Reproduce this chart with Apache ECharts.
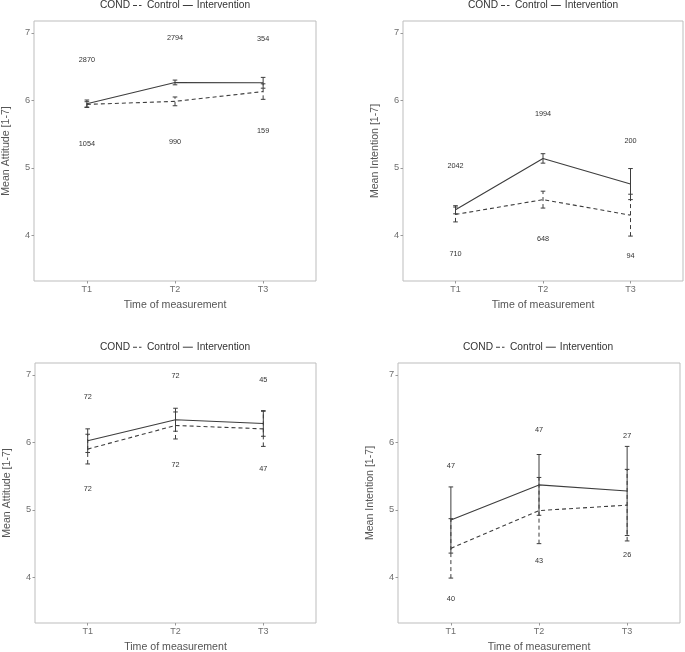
<!DOCTYPE html>
<html>
<head>
<meta charset="utf-8">
<script src="https://cdn.jsdelivr.net/npm/echarts@6/dist/echarts.min.js"></script>
<style>html,body{margin:0;padding:0;background:#fff;}#c{width:685px;height:652px;}</style>
</head>
<body>
<div id="c"></div>
<script>
// ---------- data ----------
const xLabels = ['T1', 'T2', 'T3'];
const yTicks = [4, 5, 6, 7];
const yTitles = ['Mean Attitude [1-7]', 'Mean Intention [1-7]', 'Mean Attitude [1-7]', 'Mean Intention [1-7]'];
const xTitle = 'Time of measurement';
const legendTitle = 'COND';
const groupNames = ['Control', 'Intervention'];

// Panel 1 (top-left): attitude
const p1CtrlMean = [5.94, 5.985, 6.13];
const p1CtrlErr  = [0.04, 0.065, 0.115];
const p1IntvMean = [5.95, 6.265, 6.26];
const p1IntvErr  = [0.055, 0.035, 0.08];
const p1TopText  = ['2870', '2794', '354'];
const p1TopY     = [6.60, 6.93, 6.91];
const p1BotText  = ['1054', '990', '159'];
const p1BotY     = [5.35, 5.39, 5.55];

// Panel 2 (top-right): intention
const p2CtrlMean = [4.31, 4.53, 4.30];
const p2CtrlErr  = [0.11, 0.125, 0.31];
const p2IntvMean = [4.38, 5.14, 4.76];
const p2IntvErr  = [0.06, 0.07, 0.23];
const p2TopText  = ['2042', '1994', '200'];
const p2TopY     = [5.03, 5.80, 5.40];
const p2BotText  = ['710', '648', '94'];
const p2BotY     = [3.72, 3.95, 3.70];

// Panel 3 (bottom-left): attitude
const p3CtrlMean = [5.90, 6.25, 6.20];
const p3CtrlErr  = [0.22, 0.20, 0.26];
const p3IntvMean = [6.025, 6.335, 6.28];
const p3IntvErr  = [0.175, 0.17, 0.19];
const p3TopText  = ['72', '72', '45'];
const p3TopY     = [6.67, 6.99, 6.93];
const p3BotText  = ['72', '72', '47'];
const p3BotY     = [5.305, 5.665, 5.605];

// Panel 4 (bottom-right): intention
const p4CtrlMean = [4.43, 4.99, 5.07];
const p4CtrlErr  = [0.44, 0.49, 0.53];
const p4IntvMean = [4.85, 5.37, 5.28];
const p4IntvErr  = [0.49, 0.45, 0.66];
const p4TopText  = ['47', '47', '27'];
const p4TopY     = [5.645, 6.18, 6.09];
const p4BotText  = ['40', '43', '26'];
const p4BotY     = [3.675, 4.25, 4.325];

// ---------- layout ----------
const FONT = '"Liberation Sans", Arial, Helvetica, sans-serif';
const grids = [
  {left: 34, top: 21, width: 282, height: 260},
  {left: 403, top: 21, width: 280, height: 260},
  {left: 35, top: 363, width: 281, height: 260},
  {left: 398, top: 363, width: 282, height: 260}
];
const legendLeft = [133, 501, 133, 496];
const legendTop = [0.5, 0.5, 342.2, 342.2];
const condTop = [0, 0, 341.7, 341.7];

const panels = [
  {cm: p1CtrlMean, ce: p1CtrlErr, im: p1IntvMean, ie: p1IntvErr, tt: p1TopText, ty: p1TopY, bt: p1BotText, by: p1BotY},
  {cm: p2CtrlMean, ce: p2CtrlErr, im: p2IntvMean, ie: p2IntvErr, tt: p2TopText, ty: p2TopY, bt: p2BotText, by: p2BotY},
  {cm: p3CtrlMean, ce: p3CtrlErr, im: p3IntvMean, ie: p3IntvErr, tt: p3TopText, ty: p3TopY, bt: p3BotText, by: p3BotY},
  {cm: p4CtrlMean, ce: p4CtrlErr, im: p4IntvMean, ie: p4IntvErr, tt: p4TopText, ty: p4TopY, bt: p4BotText, by: p4BotY}
];

const LINE_COLOR = '#3d3d3d';
const DASH = [4, 3];
const ICON_DASH = 'path://M0,0h4v1h-4z M6,0h2.5v1h-2.5z M10,0h0.01v1h-0.01z';
const ICON_SOLID = 'path://M0,0h10v1h-10z';

function errRender(dashed) {
  return function (params, api) {
    const x = api.value(0), lo = api.value(1), hi = api.value(2);
    const a = api.coord([x, lo]), b = api.coord([x, hi]);
    const w = 2.3;
    const st = {stroke: LINE_COLOR, lineWidth: 1, lineDash: dashed ? DASH : null, fill: null};
    return {type: 'group', children: [
      {type: 'line', shape: {x1: a[0], y1: a[1], x2: b[0], y2: b[1]}, style: st},
      {type: 'line', shape: {x1: a[0] - w, y1: a[1], x2: a[0] + w, y2: a[1]}, style: {stroke: LINE_COLOR, lineWidth: 1}},
      {type: 'line', shape: {x1: b[0] - w, y1: b[1], x2: b[0] + w, y2: b[1]}, style: {stroke: LINE_COLOR, lineWidth: 1}}
    ]};
  };
}
function textRender(texts) {
  return function (params, api) {
    const p = api.coord([api.value(0), api.value(1)]);
    return {type: 'text', x: p[0], y: p[1], style: {
      text: texts[params.dataIndex], align: 'center', verticalAlign: 'middle',
      fontSize: 7.3, fontFamily: FONT, fill: '#333'
    }};
  };
}

const option = {
  animation: false,
  backgroundColor: '#fff',
  grid: [], xAxis: [], yAxis: [], series: [], legend: [], graphic: []
};

panels.forEach((p, i) => {
  const g = grids[i];
  option.grid.push(Object.assign({show: true, borderColor: '#bdbdbd', borderWidth: 1, backgroundColor: '#fff', containLabel: false, outerBoundsMode: 'none'}, g));
  option.xAxis.push({
    type: 'value', gridIndex: i, min: 0.4, max: 3.6,
    name: xTitle, nameLocation: 'middle', nameGap: 19,
    nameTextStyle: {fontSize: 10.6, color: '#555', fontFamily: FONT},
    axisLine: {show: false},
    splitLine: {show: false},
    axisTick: {show: true, length: 2.5, customValues: [1, 2, 3], lineStyle: {color: '#999'}},
    axisLabel: {show: true, customValues: [1, 2, 3], margin: 4, fontSize: 9, color: '#6e6e6e', fontFamily: FONT,
      formatter: v => xLabels[Math.round(v) - 1]}
  });
  option.yAxis.push({
    type: 'value', gridIndex: i, min: 3.325, max: 7.175,
    name: yTitles[i], nameLocation: 'middle', nameGap: 22,
    nameTextStyle: {fontSize: 10.6, color: '#555', fontFamily: FONT},
    axisLine: {show: false},
    splitLine: {show: false},
    axisTick: {show: true, length: 2.5, customValues: yTicks, lineStyle: {color: '#999'}},
    axisLabel: {show: true, customValues: yTicks, margin: 3.8, fontSize: 9.3, color: '#6e6e6e', fontFamily: FONT}
  });
  const ctrlLine = p.cm.map((m, k) => [k + 1, m]);
  const intvLine = p.im.map((m, k) => [k + 1, m]);
  option.series.push({
    name: groupNames[0], type: 'line', xAxisIndex: i, yAxisIndex: i, data: ctrlLine, symbol: 'none',
    lineStyle: {color: LINE_COLOR, width: 1.1, type: DASH}, itemStyle: {color: LINE_COLOR}, z: 3
  });
  option.series.push({
    name: groupNames[1], type: 'line', xAxisIndex: i, yAxisIndex: i, data: intvLine, symbol: 'none',
    lineStyle: {color: LINE_COLOR, width: 1.1, type: 'solid'}, itemStyle: {color: LINE_COLOR}, z: 3
  });
  option.series.push({
    type: 'custom', xAxisIndex: i, yAxisIndex: i, renderItem: errRender(true),
    data: p.cm.map((m, k) => [k + 1, m - p.ce[k], m + p.ce[k]]), z: 4, silent: true
  });
  option.series.push({
    type: 'custom', xAxisIndex: i, yAxisIndex: i, renderItem: errRender(false),
    data: p.im.map((m, k) => [k + 1, m - p.ie[k], m + p.ie[k]]), z: 4, silent: true
  });
  option.series.push({
    type: 'custom', xAxisIndex: i, yAxisIndex: i, renderItem: textRender(p.tt),
    data: p.ty.map((y, k) => [k + 1, y]), z: 5, silent: true
  });
  option.series.push({
    type: 'custom', xAxisIndex: i, yAxisIndex: i, renderItem: textRender(p.bt),
    data: p.by.map((y, k) => [k + 1, y]), z: 5, silent: true
  });
  option.legend.push({
    data: [{name: groupNames[0], icon: ICON_DASH}, {name: groupNames[1], icon: ICON_SOLID}],
    left: legendLeft[i], top: legendTop[i], orient: 'horizontal',
    itemWidth: 10, itemHeight: 1.2, itemGap: 3, padding: 0,
    itemStyle: {color: LINE_COLOR, borderWidth: 0},
    lineStyle: {width: 0},
    textStyle: {fontSize: 10.2, color: '#333', fontFamily: FONT, padding: [0, 0, 0, -1]},
    selectedMode: false
  });
  option.graphic.push({
    type: 'text', left: legendLeft[i] - 33, top: condTop[i],
    style: {text: legendTitle, fontSize: 10.2, fill: '#333', fontFamily: FONT}
  });
});

const chart = echarts.init(document.getElementById('c'), null, {renderer: 'canvas'});
chart.setOption(option);
</script>
</body>
</html>
